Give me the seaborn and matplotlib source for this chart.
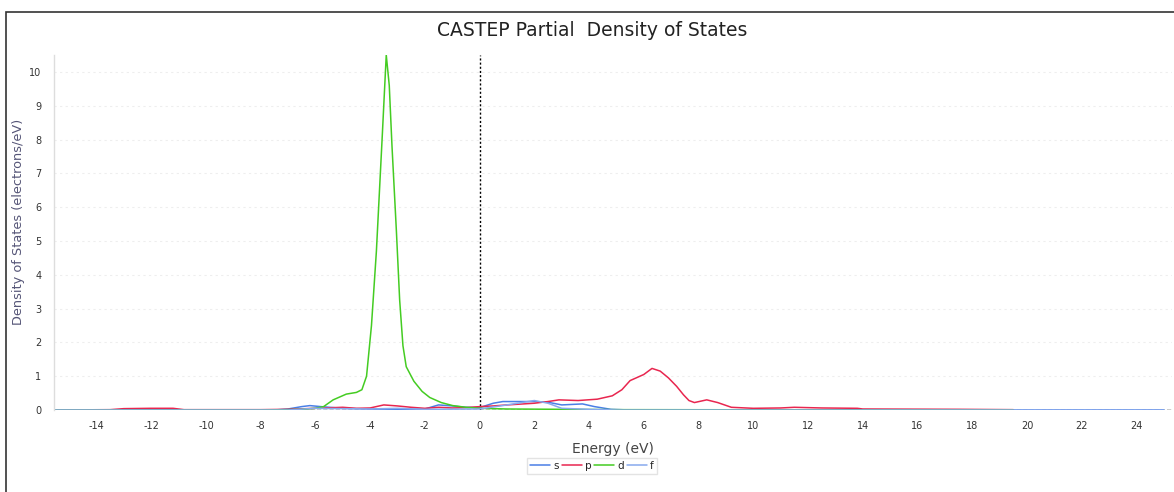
import numpy as np
import pandas as pd
import seaborn as sns
import matplotlib
matplotlib.use("Agg")
import matplotlib.pyplot as plt
from matplotlib.patches import Rectangle
from matplotlib.lines import Line2D

# ---- data ----
s_energy = [-15.5, -7.5, -7.0, -6.5, -6.2, -5.8, -5.0, -4.0, -3.0, -2.0, -1.5, -1.0, -0.5, 0.0,
            0.5, 0.85, 2.0, 2.5, 3.0, 3.76, 4.2, 4.8, 5.5, 25.0]
s_dos = [0, 0, 0.03, 0.10, 0.13, 0.10, 0.05, 0.03, 0.02, 0.03, 0.15, 0.12, 0.08, 0.07,
         0.20, 0.25, 0.25, 0.23, 0.15, 0.18, 0.10, 0.02, 0, 0]

p_energy = [-15.5, -13.5, -13.0, -12.0, -11.2, -10.8, -8.0, -7.0, -6.0, -5.0, -4.5, -4.0, -3.5,
            -3.0, -2.5, -2.0, -1.5, -1.0, -0.5, 0.0, 0.5, 1.0, 2.0, 2.5, 2.9, 3.6, 4.3, 4.85,
            5.2, 5.5, 6.0, 6.3, 6.6, 6.9, 7.2, 7.45, 7.65, 7.85, 8.3, 8.7, 9.2, 10.0, 11.0, 11.5,
            12.0, 12.5, 13.8, 14.0, 17.5, 19.5]
p_dos = [0, 0.01, 0.04, 0.05, 0.05, 0.01, 0.01, 0.02, 0.05, 0.08, 0.05, 0.06, 0.15,
         0.12, 0.08, 0.05, 0.08, 0.06, 0.07, 0.10, 0.12, 0.15, 0.20, 0.25, 0.30, 0.28, 0.32, 0.42,
         0.60, 0.87, 1.05, 1.23, 1.15, 0.95, 0.70, 0.45, 0.28, 0.22, 0.30, 0.22, 0.08, 0.05, 0.06,
         0.08, 0.07, 0.06, 0.05, 0.03, 0.02, 0.01]

d_energy = [-15.5, -8.0, -7.0, -6.5, -6.0, -5.7, -5.35, -4.87, -4.5, -4.3, -4.13, -3.95, -3.77,
            -3.55, -3.41, -3.3, -3.2, -3.04, -2.92, -2.8, -2.68, -2.4, -2.1, -1.82, -1.4, -0.98,
            -0.5, 0.0, 1.0, 3.0, 5.0, 19.5]
d_dos = [0, 0, 0.01, 0.02, 0.05, 0.10, 0.30, 0.47, 0.52, 0.60, 1.0, 2.5, 4.7,
         8.2, 10.5, 9.6, 7.8, 5.3, 3.25, 1.9, 1.28, 0.85, 0.55, 0.37, 0.22, 0.13,
         0.08, 0.05, 0.03, 0.02, 0.01, 0]

f_energy = [-15.5, -7.0, -6.0, -4.0, -3.0, -2.0, 0.0, 1.0, 2.0, 2.5, 3.0, 4.0, 5.0, 25.0]
f_dos = [0, 0, 0.05, 0.03, 0.05, 0.02, 0.03, 0.15, 0.28, 0.20, 0.05, 0.02, 0, 0]

orbitals = ["s", "p", "d", "f"]
colors = ["#4a7fe6", "#e8264f", "#44cc22", "#88aaee"]
x_ticks = list(range(-14, 25, 2))
y_ticks = list(range(0, 11))

frames = []
for name, e, v in [("s", s_energy, s_dos), ("p", p_energy, p_dos),
                   ("d", d_energy, d_dos), ("f", f_energy, f_dos)]:
    frames.append(pd.DataFrame({"Energy": e, "DOS": v, "orbital": name}))
df = pd.concat(frames, ignore_index=True)

# ---- plot ----
sns.set_style("white")
plt.rcParams['font.family'] = ['DejaVu Sans']
plt.rcParams['axes.unicode_minus'] = False

fig = plt.figure(figsize=(11.74, 4.92), dpi=100)
ax = fig.add_axes([54/1174, 1 - 410/492, (1172-54)/1174, (410-55)/492])

sns.lineplot(data=df, x="Energy", y="DOS", hue="orbital", hue_order=orbitals,
             palette=dict(zip(orbitals, colors)), linewidth=1.1, ax=ax, legend=False,
             sort=False, estimator=None)

ax.axhline(0, color="black", linestyle=(0, (3, 1.5)), linewidth=1.0, zorder=1)
ax.axvline(0, color="black", linestyle=(0, (1.5, 1.5)), linewidth=1.0, zorder=1)

ax.set_xlim(-15.55, 25.3)
ax.set_ylim(0, 10.5)
ax.set_xticks(x_ticks)
ax.set_yticks(y_ticks)
ax.tick_params(axis="both", labelsize=7, length=0, colors="#333333")
ax.tick_params(axis="x", pad=8)
ax.tick_params(axis="y", pad=9)
ax.yaxis.grid(True, color="#eeeeee", linestyle=(0, (2, 3)), linewidth=0.8)

for sp in ["top", "right", "bottom"]:
    ax.spines[sp].set_visible(False)
ax.spines["left"].set_color("#dddddd")
ax.spines["left"].set_linewidth(1.0)

ax.set_xlabel("Energy (eV)", fontsize=10, color="#444444")
ax.xaxis.set_label_coords(0.5, -(442 - 410) / 355)
ax.set_ylabel("Density of States (electrons/eV)", fontsize=9.3, color="#555577")
ax.yaxis.set_label_coords(-(54 - 25) / 1118, (410 - 222) / 355)

fig.text(592/1174, 1 - 31/492, "CASTEP Partial  Density of States", ha="center", va="center",
         fontsize=13.5, color="#222222")

handles = [Line2D([0], [0], color=c, lw=1.1) for c in colors]
fig.legend(handles, orbitals, loc="center", bbox_to_anchor=(592/1174, 1 - 466/492), ncol=4,
           fontsize=7.5, frameon=True, handlelength=1.9, handletextpad=0.3, columnspacing=0.3,
           borderpad=0.3, edgecolor="#dddddd", fancybox=False)

fig.patches.append(Rectangle((6/1174, -0.01), (1180-6)/1174, 1 - 12/492 + 0.01,
                             transform=fig.transFigure, fill=False, edgecolor="#333333",
                             linewidth=1.2))

fig.savefig("out.png", dpi=100)
